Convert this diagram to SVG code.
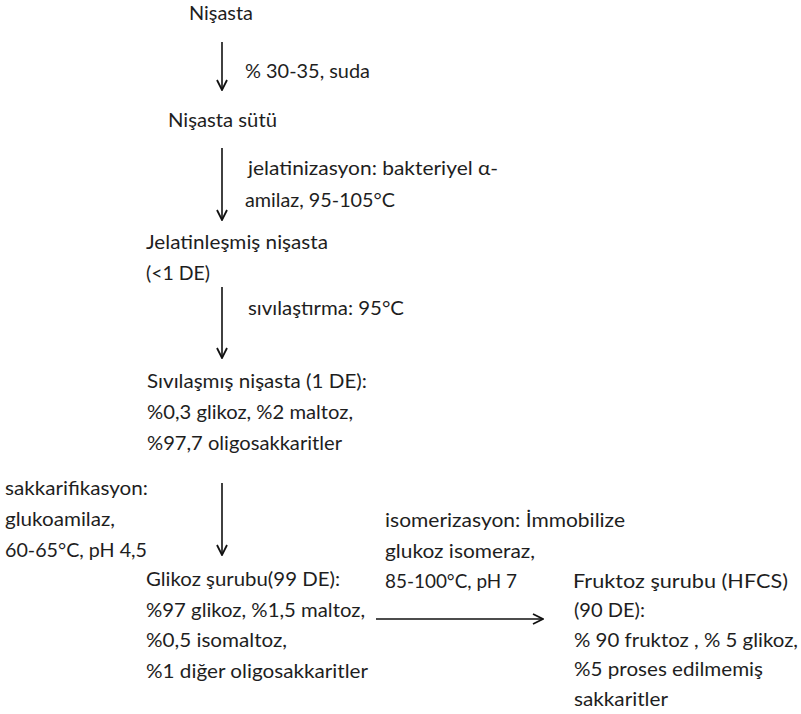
<svg xmlns="http://www.w3.org/2000/svg" width="801" height="714" viewBox="0 0 801 714">
  <style>
    text { font-family: Lato, "Open Sans", "Noto Sans", sans-serif; font-size: 20px; fill: #1e1e1e; }
    .arrow { stroke: #111; stroke-width: 1.6; fill: none; marker-end: url(#head); }
  </style>
  <defs>
    <marker id="head" viewBox="0 0 12 12" refX="11" refY="6" markerWidth="12" markerHeight="12" markerUnits="userSpaceOnUse" orient="auto">
      <path d="M1,1 L11,6 L1,11" fill="none" stroke="#111" stroke-width="1.8"/>
    </marker>
  </defs>
  <rect width="801" height="714" fill="#fff"/>

  <g id="connectors">
    <line class="arrow" x1="222" y1="42" x2="222" y2="90"/>
    <line class="arrow" x1="222" y1="148" x2="222" y2="220"/>
    <line class="arrow" x1="222" y1="287" x2="222" y2="358"/>
    <line class="arrow" x1="222" y1="483" x2="222" y2="555"/>
    <line class="arrow" x1="376" y1="619" x2="543" y2="619"/>
  </g>

  <g id="labels">
    <text x="245" y="78" textLength="125" lengthAdjust="spacingAndGlyphs">% 30-35, suda</text>
    <text x="248" y="175" textLength="250" lengthAdjust="spacingAndGlyphs">jelatinizasyon: bakteriyel α-</text>
    <text x="245" y="207" textLength="150" lengthAdjust="spacingAndGlyphs">amilaz, 95-105°C</text>
    <text x="248" y="315" textLength="156" lengthAdjust="spacingAndGlyphs">sıvılaştırma: 95°C</text>
    <text x="5" y="495" textLength="143" lengthAdjust="spacingAndGlyphs">sakkarifikasyon:</text>
    <text x="5" y="526" textLength="110" lengthAdjust="spacingAndGlyphs">glukoamilaz,</text>
    <text x="5" y="557" textLength="142" lengthAdjust="spacingAndGlyphs">60-65°C, pH 4,5</text>
    <text x="385" y="527" textLength="240" lengthAdjust="spacingAndGlyphs">isomerizasyon: İmmobilize</text>
    <text x="385" y="558" textLength="150" lengthAdjust="spacingAndGlyphs">glukoz isomeraz,</text>
    <text x="385" y="588" textLength="132" lengthAdjust="spacingAndGlyphs">85-100°C, pH 7</text>
  </g>

  <g id="nisasta">
    <text x="189" y="20" textLength="64" lengthAdjust="spacingAndGlyphs">Nişasta</text>
  </g>

  <g id="nisasta-sutu">
    <text x="168" y="127" textLength="109" lengthAdjust="spacingAndGlyphs">Nişasta sütü</text>
  </g>

  <g id="jelatinlesmis-nisasta">
    <text x="146" y="249" textLength="182" lengthAdjust="spacingAndGlyphs">Jelatinleşmiş nişasta</text>
    <text x="146" y="280" textLength="64" lengthAdjust="spacingAndGlyphs">(&lt;1 DE)</text>
  </g>

  <g id="sivilasmis-nisasta">
    <text x="147" y="388" textLength="220" lengthAdjust="spacingAndGlyphs">Sıvılaşmış nişasta (1 DE):</text>
    <text x="147" y="419" textLength="206" lengthAdjust="spacingAndGlyphs">%0,3 glikoz, %2 maltoz,</text>
    <text x="147" y="450" textLength="195" lengthAdjust="spacingAndGlyphs">%97,7 oligosakkaritler</text>
  </g>

  <g id="glikoz-surubu">
    <text x="146" y="586" textLength="194" lengthAdjust="spacingAndGlyphs">Glikoz şurubu(99 DE):</text>
    <text x="146" y="617" textLength="219" lengthAdjust="spacingAndGlyphs">%97 glikoz, %1,5 maltoz,</text>
    <text x="146" y="647" textLength="141" lengthAdjust="spacingAndGlyphs">%0,5 isomaltoz,</text>
    <text x="146" y="678" textLength="222" lengthAdjust="spacingAndGlyphs">%1 diğer oligosakkaritler</text>
  </g>

  <g id="fruktoz-surubu">
    <text x="573" y="588" textLength="215" lengthAdjust="spacingAndGlyphs">Fruktoz şurubu (HFCS)</text>
    <text x="574" y="617" textLength="71" lengthAdjust="spacingAndGlyphs">(90 DE):</text>
    <text x="574" y="647" textLength="224" lengthAdjust="spacingAndGlyphs">% 90 fruktoz , % 5 glikoz,</text>
    <text x="574" y="676" textLength="189" lengthAdjust="spacingAndGlyphs">%5 proses edilmemiş</text>
    <text x="574" y="706" textLength="94" lengthAdjust="spacingAndGlyphs">sakkaritler</text>
  </g>
</svg>
